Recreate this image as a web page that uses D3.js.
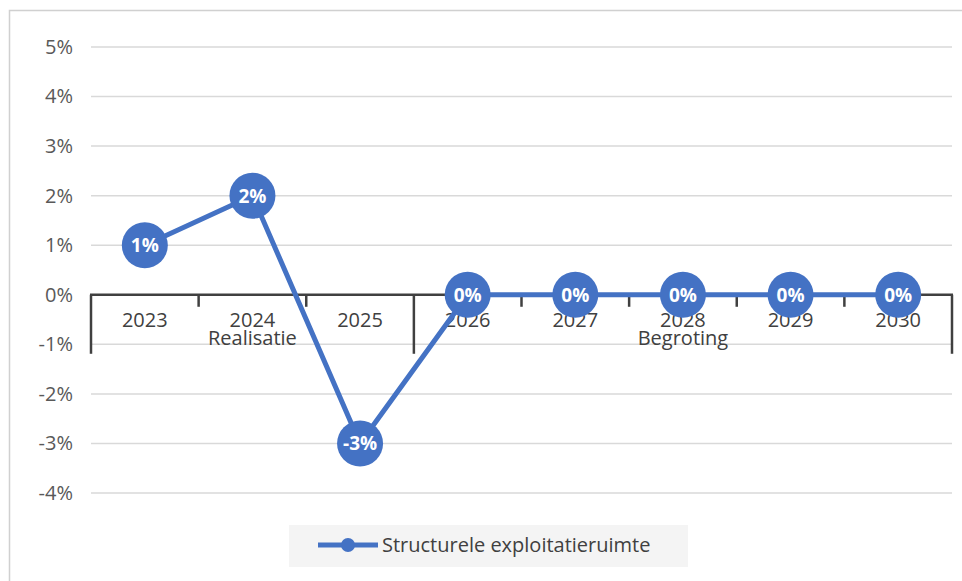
<!DOCTYPE html>
<html>
<head>
<meta charset="utf-8">
<script src="https://cdn.jsdelivr.net/npm/d3@7"></script>
<style>
  body { margin: 0; background: #fff; }
  svg { display: block; font-family: "Open Sans", sans-serif; }
</style>
</head>
<body>
<svg id="chart" width="962" height="581"></svg>
<script>
// data
const years = ["2023", "2024", "2025", "2026", "2027", "2028", "2029", "2030"];
const phases = ["Realisatie", "Realisatie", "Realisatie", "Begroting", "Begroting", "Begroting", "Begroting", "Begroting"];
const ruimte = [0.01, 0.02, -0.03, 0, 0, 0, 0, 0];
const yTicks = [-0.04, -0.03, -0.02, -0.01, 0, 0.01, 0.02, 0.03, 0.04, 0.05];
const seriesName = "Structurele exploitatieruimte";

const blue = "#4472C4";
const svg = d3.select("#chart");
// plain hyphen as minus, like the original
const pct = d3.formatLocale({decimal: ".", thousands: ",", grouping: [3], currency: ["", ""], minus: "-"}).format(".0%");

// chart area border (runs off the picture at right and bottom)
svg.append("rect")
  .attr("x", 9.5).attr("y", 10.5)
  .attr("width", 1000).attr("height", 1000)
  .attr("fill", "none").attr("stroke", "#d0d0d0").attr("stroke-width", 1.5);

const x = d3.scaleBand().domain(years).range([91, 952]).padding(0);
const y = d3.scaleLinear().domain([-0.04, 0.05]).range([493, 47]);
const cx = d => x(d) + x.bandwidth() / 2;

// gridlines
svg.append("g").selectAll("line").data(yTicks).join("line")
  .attr("x1", 91).attr("x2", 952)
  .attr("y1", d => y(d)).attr("y2", d => y(d))
  .attr("stroke", "#d9d9d9").attr("stroke-width", 1.5);

// y axis labels
const yAxis = svg.append("g")
  .attr("transform", "translate(73,0)")
  .call(d3.axisLeft(y).tickValues(yTicks).tickFormat(pct).tickSize(0).tickPadding(0));
yAxis.select(".domain").remove();
yAxis.selectAll("text")
  .attr("fill", "#595959").attr("font-size", 20)
  .attr("font-family", "'Open Sans', sans-serif");

// category axis at 0%
const y0 = y(0);
const axisColor = "#404040";
svg.append("line")
  .attr("x1", 90).attr("x2", 953).attr("y1", y0).attr("y2", y0)
  .attr("stroke", axisColor).attr("stroke-width", 2.5);

// minor ticks within a phase, long ticks at phase boundaries
const edges = years.map((d, i) => i).concat([years.length]);
svg.append("g").selectAll("line").data(edges).join("line")
  .attr("x1", i => i < years.length ? x(years[i]) : x.range()[1])
  .attr("x2", i => i < years.length ? x(years[i]) : x.range()[1])
  .attr("y1", y0)
  .attr("y2", i => (i === 0 || i === years.length || phases[i] !== phases[i - 1]) ? y0 + 59 : y0 + 12)
  .attr("stroke", axisColor).attr("stroke-width", 2.5);

svg.append("g").selectAll("text").data(years).join("text")
  .attr("x", d => cx(d)).attr("y", y0 + 25)
  .attr("dy", "0.35em")
  .attr("text-anchor", "middle")
  .attr("fill", "#404040").attr("font-size", 20)
  .text(d => d);

const phaseNames = Array.from(new Set(phases));
svg.append("g").selectAll("text").data(phaseNames).join("text")
  .attr("x", p => {
    const idx = phases.map((q, i) => q === p ? i : -1).filter(i => i >= 0);
    return (x(years[idx[0]]) + x(years[idx[idx.length - 1]]) + x.bandwidth()) / 2;
  })
  .attr("y", y0 + 43)
  .attr("dy", "0.35em")
  .attr("text-anchor", "middle")
  .attr("fill", "#404040").attr("font-size", 20)
  .text(p => p);

// series
const line = d3.line().x((d, i) => cx(years[i])).y(d => y(d));
svg.append("path")
  .datum(ruimte)
  .attr("d", line)
  .attr("fill", "none").attr("stroke", blue)
  .attr("stroke-width", 5).attr("stroke-linejoin", "round");

const pts = svg.append("g").selectAll("g").data(ruimte).join("g")
  .attr("transform", (d, i) => "translate(" + cx(years[i]) + "," + y(d) + ")");
pts.append("circle").attr("r", 23).attr("fill", blue);
pts.append("text")
  .attr("text-anchor", "middle").attr("dy", "0.36em")
  .attr("fill", "#fff").attr("font-size", 19).attr("font-weight", 700)
  .text(d => pct(d));

// legend
const lg = svg.append("g").attr("transform", "translate(289,525)");
lg.append("rect").attr("width", 399).attr("height", 42).attr("fill", "#f4f4f4");
lg.append("line").attr("x1", 29).attr("x2", 89).attr("y1", 20).attr("y2", 20)
  .attr("stroke", blue).attr("stroke-width", 5);
lg.append("circle").attr("cx", 59).attr("cy", 20).attr("r", 7).attr("fill", blue);
lg.append("text").attr("x", 93).attr("y", 20).attr("dy", "0.35em")
  .attr("fill", "#404040").attr("font-size", 20)
  .text(seriesName);
</script>
</body>
</html>
